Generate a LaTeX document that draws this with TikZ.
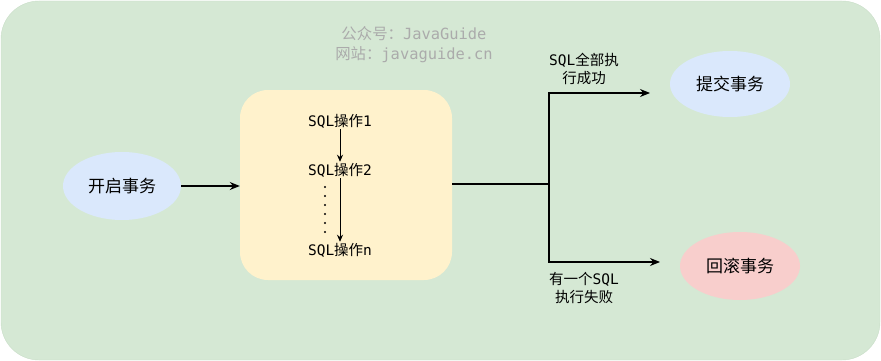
\documentclass[tikz,border=0pt]{standalone}
\usepackage{fontspec}
\newfontfamily\cj{Noto Sans CJK SC}
\newfontfamily\mo{DejaVu Sans Mono}
\usetikzlibrary{arrows.meta,shapes.geometric}
\definecolor{bggreen}{HTML}{D5E8D4}
\definecolor{bgedge}{HTML}{C9DEC8}
\definecolor{ylw}{HTML}{FFF2CC}
\definecolor{blu}{HTML}{DAE8FC}
\definecolor{rd}{HTML}{F8CECC}
\definecolor{wm}{HTML}{ABABAB}
\begin{document}
\begin{tikzpicture}[x=1pt,y=-1pt,
  ell/.style={ellipse, minimum width=#1, minimum height=68pt, inner sep=0pt, font=\cj\fontsize{17}{20}\selectfont},
  opnode/.style={inner sep=1pt, font=\fontsize{14.5}{17}\selectfont},
  lbl/.style={align=center, inner sep=0pt, font=\fontsize{14.5}{17.5}\selectfont},
  arr/.style={-{Stealth[length=10pt,width=8pt]}, line width=1.3pt},
  ln/.style={line width=1.8pt}
]
\useasboundingbox (0,0) rectangle (881,361);
\node[draw=bgedge, fill=bggreen, rounded corners=38pt, minimum width=879pt, minimum height=359pt, inner sep=0pt] (bg) at (440.5,180.5) {};
\node[font=\fontsize{15.4}{20}\selectfont, text=wm, align=center, inner sep=0pt] (wm) at (414,45) {{\cj 公众号：}{\mo JavaGuide}\\{\cj 网站：}{\mo javaguide.cn}};
\node[fill=blu, ell=118pt] (start) at (122,186) {开启事务};
\node[fill=ylw, rounded corners=28pt, minimum width=212pt, minimum height=190pt, inner sep=0pt] (box) at (346,185) {};
\node[opnode] (op1) at (340,121) {\mo SQL\cj 操作\mo 1};
\node[opnode] (op2) at (340,170) {\mo SQL\cj 操作\mo 2};
\node[opnode] (opn) at (340,250) {\mo SQL\cj 操作\mo n};
\draw[-{Stealth[length=7pt,width=6pt]}, line width=0.8pt] (op1) -- (op2);
\draw[-{Stealth[length=7pt,width=6pt]}, line width=0.8pt] (op2) -- (opn);
\foreach \i in {0,...,5} \fill (325,{187+\i*9}) circle (1.1pt);
\draw[arr] (start) -- (start -| box.west);
\coordinate (jn) at (549,184);
\coordinate (jt) at (549,93);
\coordinate (jb) at (549,262);
\node[fill=blu, ell=120pt, minimum height=66pt] (commit) at (730,84) {提交事务};
\node[fill=rd, ell=120pt] (rollback) at (740,266) {回滚事务};
\coordinate (ct) at (650,93);
\coordinate (rb) at (660,262);
\draw[ln] (box.east |- jn) -- (jn);
\draw[line width=1.4pt] (jt) -- (jb);
\draw[arr] ([xshift=-0.7pt]jt) -- (ct);
\draw[arr] ([xshift=-0.7pt]jb) -- (rb);
\node[lbl] (l1) at (584,69) {\mo SQL\cj 全部执\\\cj 行成功};
\node[lbl] (l2) at (584,288) {\cj 有一个\mo SQL\\\cj 执行失败};
\end{tikzpicture}
\end{document}
